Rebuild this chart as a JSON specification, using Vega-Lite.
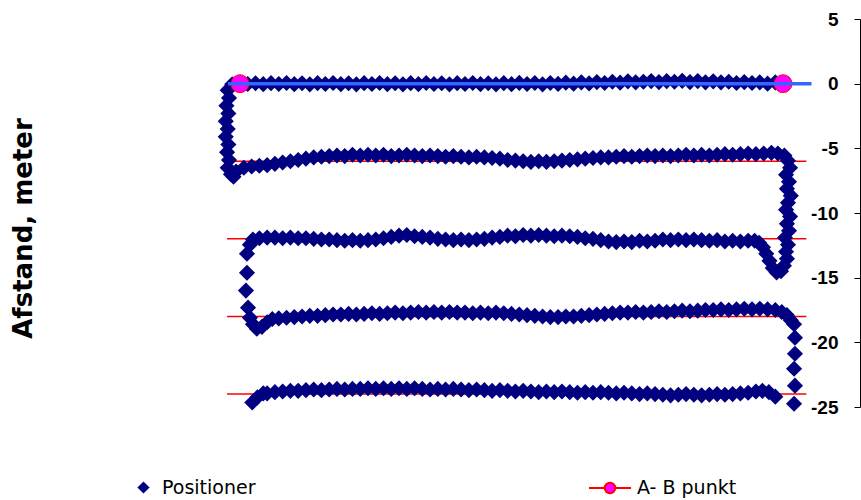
{
"$schema": "https://vega.github.io/schema/vega-lite/v6.json",
"width": 860, "height": 388, "autosize": "none",
"padding": {"left": 0, "top": 19, "right": 1, "bottom": 93},
"background": "white",
"config": {"view": {"stroke": null}},
"datasets": {
"guides": [
{"g":"a","x":-1.0,"y":-6},{"g":"a","x":43.8,"y":-6},
{"g":"b","x":-1.0,"y":-12},{"g":"b","x":43.8,"y":-12},
{"g":"c","x":-1.0,"y":-18},{"g":"c","x":43.8,"y":-18},
{"g":"d","x":-1.0,"y":-24},{"g":"d","x":43.8,"y":-24}
],
"base": [{"x":-0.93,"y":0},{"x":44.2,"y":0}],
"ab": [{"x":0,"y":0},{"x":42,"y":0}],
"pos": [
{"x":41.9,"y":0.05},{"x":41.4,"y":0.1},{"x":40.8,"y":0.0},{"x":40.2,"y":0.1},{"x":39.6,"y":0.05},{"x":39.0,"y":0.12},{"x":38.4,"y":0.05},{"x":37.8,"y":0.15},{"x":37.2,"y":0.1},{"x":36.6,"y":0.18},{"x":36.0,"y":0.1},{"x":35.4,"y":0.2},{"x":34.8,"y":0.12},{"x":34.2,"y":0.22},{"x":33.6,"y":0.15},{"x":33.0,"y":0.2},{"x":32.4,"y":0.12},{"x":31.8,"y":0.2},{"x":31.2,"y":0.15},{"x":30.6,"y":0.1},{"x":30.0,"y":0.18},{"x":29.4,"y":0.08},{"x":28.8,"y":0.15},{"x":28.2,"y":0.05},{"x":27.6,"y":0.12},{"x":27.0,"y":0.02},{"x":26.4,"y":0.1},{"x":25.8,"y":0.0},{"x":25.2,"y":0.08},{"x":24.6,"y":-0.02},{"x":24.0,"y":0.05},{"x":23.4,"y":-0.05},{"x":22.8,"y":0.05},{"x":22.2,"y":-0.03},{"x":21.6,"y":0.06},{"x":21.0,"y":-0.04},{"x":20.4,"y":0.04},{"x":19.8,"y":-0.05},{"x":19.2,"y":0.03},{"x":18.6,"y":-0.04},{"x":18.0,"y":0.05},{"x":17.4,"y":-0.03},{"x":16.8,"y":0.04},{"x":16.2,"y":-0.05},{"x":15.6,"y":0.03},{"x":15.0,"y":-0.03},{"x":14.4,"y":0.05},{"x":13.8,"y":-0.04},{"x":13.2,"y":0.04},{"x":12.6,"y":-0.05},{"x":12.0,"y":0.03},{"x":11.4,"y":-0.04},{"x":10.8,"y":0.05},{"x":10.2,"y":-0.03},{"x":9.6,"y":0.04},{"x":9.0,"y":-0.05},{"x":8.4,"y":0.03},{"x":7.8,"y":-0.04},{"x":7.2,"y":0.05},{"x":6.6,"y":-0.03},{"x":6.0,"y":0.04},{"x":5.4,"y":-0.05},{"x":4.8,"y":0.03},{"x":4.2,"y":-0.04},{"x":3.6,"y":0.05},{"x":3.0,"y":-0.03},{"x":2.4,"y":0.04},{"x":1.8,"y":-0.04},{"x":1.2,"y":0.03},{"x":0.6,"y":-0.03},{"x":0.0,"y":0.02},{"x":-0.6,"y":-0.05},
{"x":-0.95,"y":-0.5},{"x":-0.85,"y":-1.1},{"x":-1.05,"y":-1.7},{"x":-0.9,"y":-2.3},{"x":-1.1,"y":-2.9},{"x":-0.95,"y":-3.5},{"x":-1.1,"y":-4.1},{"x":-0.9,"y":-4.7},{"x":-1.0,"y":-5.3},{"x":-0.85,"y":-5.9},{"x":-0.95,"y":-6.5},{"x":-0.7,"y":-7.0},{"x":-0.5,"y":-7.2},
{"x":-0.3,"y":-6.8},{"x":0.3,"y":-6.5},{"x":0.9,"y":-6.4},{"x":1.5,"y":-6.35},{"x":2.1,"y":-6.3},{"x":2.7,"y":-6.2},{"x":3.3,"y":-6.1},{"x":3.9,"y":-6.0},{"x":4.5,"y":-5.9},{"x":5.1,"y":-5.8},{"x":5.7,"y":-5.7},{"x":6.3,"y":-5.65},{"x":6.9,"y":-5.6},{"x":7.5,"y":-5.55},{"x":8.1,"y":-5.6},{"x":8.7,"y":-5.5},{"x":9.3,"y":-5.55},{"x":9.9,"y":-5.5},{"x":10.5,"y":-5.55},{"x":11.1,"y":-5.5},{"x":11.7,"y":-5.6},{"x":12.3,"y":-5.55},{"x":12.9,"y":-5.5},{"x":13.5,"y":-5.55},{"x":14.1,"y":-5.6},{"x":14.7,"y":-5.55},{"x":15.3,"y":-5.6},{"x":15.9,"y":-5.65},{"x":16.5,"y":-5.6},{"x":17.1,"y":-5.65},{"x":17.7,"y":-5.7},{"x":18.3,"y":-5.65},{"x":18.9,"y":-5.7},{"x":19.5,"y":-5.75},{"x":20.1,"y":-5.8},{"x":20.7,"y":-5.9},{"x":21.3,"y":-5.95},{"x":21.9,"y":-6.0},{"x":22.5,"y":-6.05},{"x":23.1,"y":-6.0},{"x":23.7,"y":-6.05},{"x":24.3,"y":-6.0},{"x":24.9,"y":-5.95},{"x":25.5,"y":-5.9},{"x":26.1,"y":-5.85},{"x":26.7,"y":-5.8},{"x":27.3,"y":-5.75},{"x":27.9,"y":-5.7},{"x":28.5,"y":-5.7},{"x":29.1,"y":-5.65},{"x":29.7,"y":-5.6},{"x":30.3,"y":-5.65},{"x":30.9,"y":-5.6},{"x":31.5,"y":-5.55},{"x":32.1,"y":-5.6},{"x":32.7,"y":-5.55},{"x":33.3,"y":-5.6},{"x":33.9,"y":-5.55},{"x":34.5,"y":-5.5},{"x":35.1,"y":-5.55},{"x":35.7,"y":-5.5},{"x":36.3,"y":-5.55},{"x":36.9,"y":-5.5},{"x":37.5,"y":-5.45},{"x":38.1,"y":-5.5},{"x":38.7,"y":-5.45},{"x":39.3,"y":-5.4},{"x":39.9,"y":-5.45},{"x":40.5,"y":-5.4},{"x":41.1,"y":-5.35},{"x":41.6,"y":-5.4},{"x":42.1,"y":-5.55},
{"x":42.38,"y":-5.96},{"x":42.54,"y":-6.5},{"x":42.23,"y":-7.04},{"x":42.46,"y":-7.58},{"x":42.3,"y":-8.12},{"x":42.6,"y":-8.66},{"x":42.38,"y":-9.2},{"x":42.23,"y":-9.74},{"x":42.54,"y":-10.28},{"x":42.3,"y":-10.83},{"x":42.46,"y":-11.37},{"x":42.15,"y":-11.91},{"x":42.38,"y":-12.45},{"x":42.23,"y":-12.99},{"x":42.3,"y":-13.53},{"x":42.07,"y":-14.08},{"x":41.84,"y":-14.5},{"x":41.5,"y":-14.6},{"x":41.2,"y":-14.25},{"x":40.95,"y":-13.7},{"x":40.7,"y":-13.15},{"x":40.45,"y":-12.65},{"x":40.15,"y":-12.3},{"x":39.8,"y":-12.15},
{"x":39.3,"y":-12.15},{"x":38.7,"y":-12.2},{"x":38.1,"y":-12.15},{"x":37.5,"y":-12.2},{"x":36.9,"y":-12.1},{"x":36.3,"y":-12.15},{"x":35.7,"y":-12.1},{"x":35.1,"y":-12.05},{"x":34.5,"y":-12.1},{"x":33.9,"y":-12.05},{"x":33.3,"y":-12.1},{"x":32.7,"y":-12.05},{"x":32.1,"y":-12.15},{"x":31.5,"y":-12.2},{"x":30.9,"y":-12.15},{"x":30.3,"y":-12.25},{"x":29.7,"y":-12.2},{"x":29.1,"y":-12.25},{"x":28.5,"y":-12.2},{"x":27.9,"y":-12.1},{"x":27.3,"y":-12.0},{"x":26.7,"y":-11.95},{"x":26.1,"y":-11.85},{"x":25.5,"y":-11.8},{"x":24.9,"y":-11.75},{"x":24.3,"y":-11.8},{"x":23.7,"y":-11.75},{"x":23.1,"y":-11.7},{"x":22.5,"y":-11.75},{"x":21.9,"y":-11.7},{"x":21.3,"y":-11.8},{"x":20.7,"y":-11.75},{"x":20.1,"y":-11.85},{"x":19.5,"y":-11.9},{"x":18.9,"y":-12.0},{"x":18.3,"y":-12.05},{"x":17.7,"y":-12.1},{"x":17.1,"y":-12.05},{"x":16.5,"y":-12.1},{"x":15.9,"y":-12.05},{"x":15.3,"y":-12.0},{"x":14.7,"y":-11.9},{"x":14.1,"y":-11.85},{"x":13.5,"y":-11.8},{"x":12.9,"y":-11.7},{"x":12.3,"y":-11.75},{"x":11.7,"y":-11.85},{"x":11.1,"y":-11.95},{"x":10.5,"y":-12.05},{"x":9.9,"y":-12.1},{"x":9.3,"y":-12.15},{"x":8.7,"y":-12.1},{"x":8.1,"y":-12.15},{"x":7.5,"y":-12.1},{"x":6.9,"y":-12.05},{"x":6.3,"y":-12.05},{"x":5.7,"y":-12.0},{"x":5.1,"y":-11.95},{"x":4.5,"y":-11.95},{"x":3.9,"y":-11.9},{"x":3.3,"y":-11.95},{"x":2.7,"y":-11.9},{"x":2.1,"y":-11.9},{"x":1.5,"y":-11.95},{"x":1.0,"y":-12.05},
{"x":0.77,"y":-12.45},{"x":0.54,"y":-13.15},{"x":0.54,"y":-14.62},{"x":0.46,"y":-16.0},{"x":0.62,"y":-17.32},{"x":0.77,"y":-18.1},{"x":1.0,"y":-18.6},{"x":1.3,"y":-18.95},{"x":1.7,"y":-18.8},{"x":2.1,"y":-18.45},{"x":2.5,"y":-18.2},
{"x":3.0,"y":-18.15},{"x":3.6,"y":-18.1},{"x":4.2,"y":-18.05},{"x":4.8,"y":-18.0},{"x":5.4,"y":-17.95},{"x":6.0,"y":-17.95},{"x":6.6,"y":-17.9},{"x":7.2,"y":-17.85},{"x":7.8,"y":-17.85},{"x":8.4,"y":-17.8},{"x":9.0,"y":-17.85},{"x":9.6,"y":-17.8},{"x":10.2,"y":-17.75},{"x":10.8,"y":-17.8},{"x":11.4,"y":-17.75},{"x":12.0,"y":-17.7},{"x":12.6,"y":-17.75},{"x":13.2,"y":-17.7},{"x":13.8,"y":-17.65},{"x":14.4,"y":-17.7},{"x":15.0,"y":-17.65},{"x":15.6,"y":-17.7},{"x":16.2,"y":-17.65},{"x":16.8,"y":-17.7},{"x":17.4,"y":-17.7},{"x":18.0,"y":-17.75},{"x":18.6,"y":-17.7},{"x":19.2,"y":-17.75},{"x":19.8,"y":-17.7},{"x":20.4,"y":-17.75},{"x":21.0,"y":-17.8},{"x":21.6,"y":-17.85},{"x":22.2,"y":-17.9},{"x":22.8,"y":-17.95},{"x":23.4,"y":-18.0},{"x":24.0,"y":-18.05},{"x":24.6,"y":-18.05},{"x":25.2,"y":-18.0},{"x":25.8,"y":-18.0},{"x":26.4,"y":-17.95},{"x":27.0,"y":-17.9},{"x":27.6,"y":-17.85},{"x":28.2,"y":-17.8},{"x":28.8,"y":-17.75},{"x":29.4,"y":-17.7},{"x":30.0,"y":-17.7},{"x":30.6,"y":-17.65},{"x":31.2,"y":-17.7},{"x":31.8,"y":-17.65},{"x":32.4,"y":-17.6},{"x":33.0,"y":-17.65},{"x":33.6,"y":-17.6},{"x":34.2,"y":-17.55},{"x":34.8,"y":-17.6},{"x":35.4,"y":-17.55},{"x":36.0,"y":-17.5},{"x":36.6,"y":-17.5},{"x":37.2,"y":-17.45},{"x":37.8,"y":-17.5},{"x":38.4,"y":-17.45},{"x":39.0,"y":-17.4},{"x":39.6,"y":-17.45},{"x":40.2,"y":-17.4},{"x":40.8,"y":-17.45},{"x":41.4,"y":-17.5},{"x":41.9,"y":-17.65},{"x":42.3,"y":-17.9},
{"x":42.6,"y":-18.3},{"x":42.85,"y":-18.6},{"x":42.92,"y":-19.64},{"x":42.92,"y":-20.88},{"x":42.85,"y":-22.04},{"x":42.92,"y":-23.35},{"x":42.85,"y":-24.75},
{"x":41.4,"y":-24.2},{"x":40.9,"y":-23.85},{"x":40.4,"y":-23.75},{"x":39.9,"y":-23.8},{"x":39.3,"y":-23.9},{"x":38.7,"y":-23.95},{"x":38.1,"y":-24.0},{"x":37.5,"y":-24.05},{"x":36.9,"y":-24.0},{"x":36.3,"y":-24.05},{"x":35.7,"y":-24.1},{"x":35.1,"y":-24.05},{"x":34.5,"y":-24.0},{"x":33.9,"y":-24.05},{"x":33.3,"y":-24.1},{"x":32.7,"y":-24.05},{"x":32.1,"y":-24.0},{"x":31.5,"y":-23.95},{"x":30.9,"y":-24.0},{"x":30.3,"y":-23.95},{"x":29.7,"y":-23.9},{"x":29.1,"y":-23.95},{"x":28.5,"y":-23.9},{"x":27.9,"y":-23.85},{"x":27.3,"y":-23.9},{"x":26.7,"y":-23.85},{"x":26.1,"y":-23.9},{"x":25.5,"y":-23.85},{"x":24.9,"y":-23.8},{"x":24.3,"y":-23.85},{"x":23.7,"y":-23.8},{"x":23.1,"y":-23.85},{"x":22.5,"y":-23.8},{"x":21.9,"y":-23.75},{"x":21.3,"y":-23.8},{"x":20.7,"y":-23.75},{"x":20.1,"y":-23.7},{"x":19.5,"y":-23.75},{"x":18.9,"y":-23.7},{"x":18.3,"y":-23.65},{"x":17.7,"y":-23.7},{"x":17.1,"y":-23.65},{"x":16.5,"y":-23.6},{"x":15.9,"y":-23.65},{"x":15.3,"y":-23.6},{"x":14.7,"y":-23.65},{"x":14.1,"y":-23.6},{"x":13.5,"y":-23.55},{"x":12.9,"y":-23.6},{"x":12.3,"y":-23.55},{"x":11.7,"y":-23.6},{"x":11.1,"y":-23.55},{"x":10.5,"y":-23.6},{"x":9.9,"y":-23.55},{"x":9.3,"y":-23.6},{"x":8.7,"y":-23.6},{"x":8.1,"y":-23.65},{"x":7.5,"y":-23.6},{"x":6.9,"y":-23.65},{"x":6.3,"y":-23.7},{"x":5.7,"y":-23.65},{"x":5.1,"y":-23.7},{"x":4.5,"y":-23.75},{"x":3.9,"y":-23.75},{"x":3.3,"y":-23.8},{"x":2.7,"y":-23.85},{"x":2.1,"y":-23.95},{"x":1.8,"y":-23.95},{"x":1.35,"y":-24.25},{"x":0.95,"y":-24.65}
]
},
"encoding": {
"x": {"field": "x", "type": "quantitative", "scale": {"domain": [-18.56, 47.95], "nice": false, "zero": false}, "axis": null},
"y": {"field": "y", "type": "quantitative", "scale": {"domain": [-25, 5], "nice": false, "zero": false},
 "axis": {"orient": "left", "offset": -860, "values": [5, 0, -5, -10, -15, -20, -25], "grid": false,
  "domainColor": "#000000", "domainWidth": 1, "tickColor": "#000000", "tickSize": 6, "labelPadding": 16,
  "labelExpr": "toString(datum.value)",
  "labelFont": "Liberation Sans", "labelFontWeight": "bold", "labelFontSize": 19, "labelColor": "#000000",
  "title": "Afstand, meter", "titleFont": "DejaVu Sans", "titleFontSize": 26, "titleFontWeight": "bold", "titleColor": "#000000",
  "titleX": -837, "titleY": 209, "titleAngle": -90, "titleAlign": "center", "titleBaseline": "middle"}}
},
"layer": [
{"data": {"name": "guides"}, "mark": {"type": "line", "color": "#FF0000", "strokeWidth": 1.5}, "encoding": {"detail": {"field": "g"}}},
{"data": {"name": "pos"}, "mark": {"type": "point", "shape": "diamond", "filled": true, "size": 260, "opacity": 1, "strokeWidth": 0},
 "encoding": {"color": {"datum": "Positioner", "scale": {"range": ["#000080"]},
  "legend": {"orient": "none", "legendX": 134, "legendY": 459, "title": null, "padding": 0, "symbolType": "diamond", "symbolSize": 150, "symbolStrokeWidth": 0, "labelFont": "DejaVu Sans", "labelFontSize": 19, "labelColor": "#000000", "labelOffset": 9}}}},
{"data": {"name": "ab"}, "mark": {"type": "point", "shape": "circle", "filled": true, "size": 320, "opacity": 1, "stroke": "#FF0000", "strokeWidth": 1},
 "encoding": {"fill": {"datum": "A- B punkt", "scale": {"range": ["#FF00FF"]},
  "legend": {"orient": "none", "legendX": 588, "legendY": 447, "title": null, "padding": 0,
   "symbolType": "M-1,0L-0.25,0M0.25,0L1,0M-0.25,0A0.25,0.25,0,1,1,0.25,0A0.25,0.25,0,1,1,-0.25,0Z",
   "symbolSize": 1764, "symbolStrokeColor": "#FF0000", "symbolStrokeWidth": 2, "labelFont": "DejaVu Sans", "labelFontSize": 19, "labelColor": "#000000", "labelOffset": 5}}}},
{"data": {"name": "base"}, "mark": {"type": "line", "color": "#3366FF", "strokeWidth": 3.5}, "encoding": {}}
]
}
